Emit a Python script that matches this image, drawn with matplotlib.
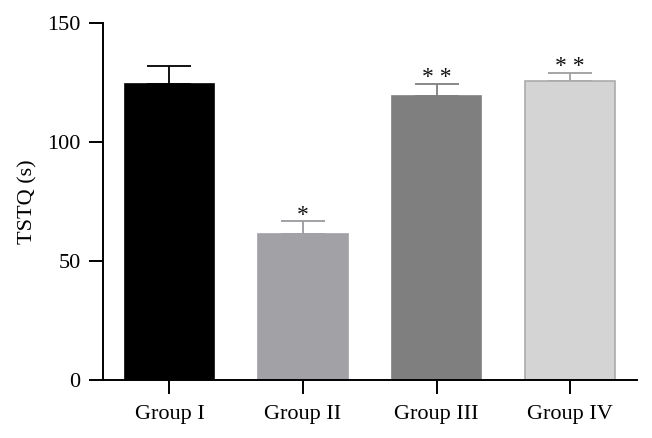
"""Bar chart of TSTQ by group, with upper error bars and significance marks."""

import matplotlib
matplotlib.use("Agg")
import matplotlib.pyplot as plt

matplotlib.rcParams['font.family'] = ['Liberation Serif', 'DejaVu Serif']

### data ###########################################################################################

groups = ['Group I', 'Group II', 'Group III', 'Group IV']
means = [124.4, 61.2, 119.6, 125.6]
errors = [7.7, 5.5, 5.0, 3.7]
marks = ['', '*', '* *', '* *']

face_colors = ['#000000', '#a2a1a6', '#7f7f7f', '#d4d4d4']
edge_colors = ['#000000', '#a2a1a6', '#7f7f7f', '#ababab']
err_colors = ['#000000', '#9a9a9e', '#7f7f7f', '#9e9e9e']

### plot ###########################################################################################

fig = plt.figure(figsize=(6.52, 4.38), dpi=100)
ax = fig.add_axes([0.1575, 0.1324, 0.8195, 0.8144])

x = list(range(len(groups)))
ax.bar(x, means, width=0.67, color=face_colors, edgecolor=edge_colors, linewidth=1.2, zorder=2)

for xi, m, e, c, s in zip(x, means, errors, err_colors, marks):
    ax.errorbar(xi, m, yerr=[[0], [e]], fmt='none', ecolor=c, elinewidth=1.3,
                capsize=15.8, capthick=1.3, zorder=1)
    if s:
        ax.text(xi, m + e - 1.8, s, ha='center', va='bottom', fontsize=17, color='#111111')

# decorate
ax.set_xlim(-0.5, 3.5)
ax.set_ylim(0, 150)
ax.set_yticks([0, 50, 100, 150])
ax.set_xticks(x)
ax.set_xticklabels(groups)
ax.set_ylabel('TSTQ (s)', fontsize=16, labelpad=7)
for side in ['top', 'right']:
    ax.spines[side].set_visible(False)
for side in ['left', 'bottom']:
    ax.spines[side].set_linewidth(1.4)
ax.tick_params(axis='both', direction='out', length=10, width=1.4, labelsize=16)
ax.tick_params(axis='y', pad=6)
ax.tick_params(axis='x', pad=8)

fig.savefig('out.png', dpi=100)
plt.close(fig)
